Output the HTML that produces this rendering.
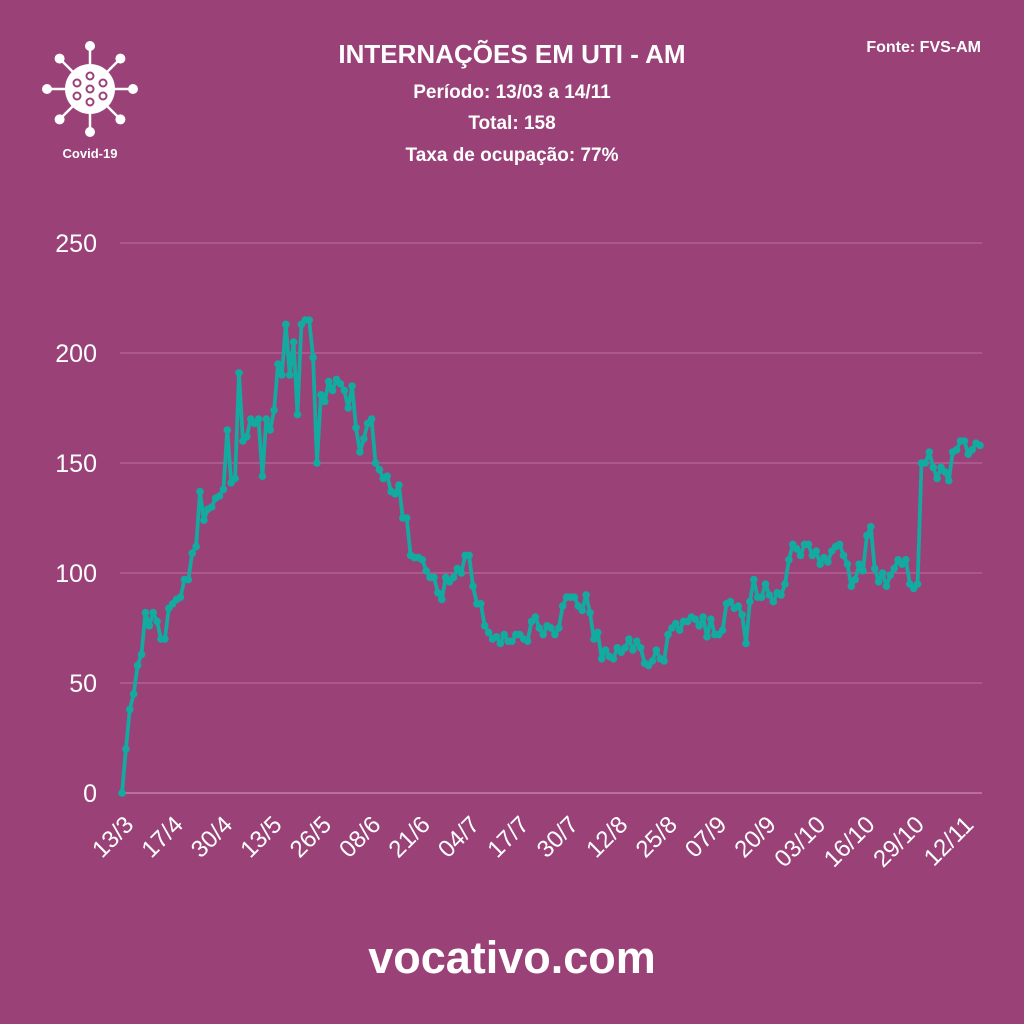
<!DOCTYPE html>
<html><head><meta charset="utf-8"><style>
body{margin:0;background:#9a4178;}
svg{display:block;font-family:"Liberation Sans",sans-serif;}
</style></head><body>
<svg id="chart" width="1024" height="1024" viewBox="0 0 1024 1024">
<rect width="1024" height="1024" fill="#9a4178"/>
<g id="virus" fill="#fff" stroke="#fff"></g>
<text x="90" y="158" text-anchor="middle" font-size="13" font-weight="bold" fill="#fff">Covid-19</text>
<text x="512" y="63" text-anchor="middle" font-size="26" font-weight="bold" fill="#fff">INTERNAÇÕES EM UTI - AM</text>
<text x="512" y="98" text-anchor="middle" font-size="19" font-weight="bold" fill="#fff">Período: 13/03 a 14/11</text>
<text x="512" y="129" text-anchor="middle" font-size="19" font-weight="bold" fill="#fff">Total: 158</text>
<text x="512" y="161" text-anchor="middle" font-size="19" font-weight="bold" fill="#fff">Taxa de ocupação: 77%</text>
<text x="981" y="52" text-anchor="end" font-size="16" font-weight="bold" fill="#fff">Fonte: FVS-AM</text>
<text x="512" y="973" text-anchor="middle" font-size="45" font-weight="bold" fill="#fff">vocativo.com</text>
<g id="grid"></g><g id="xlabels"></g><g id="series"></g>
</svg>
<script>
const yTicks=[0,50,100,150,200,250];
const xTickLabels=["13/3","17/4","30/4","13/5","26/5","08/6","21/6","04/7","17/7","30/7","12/8","25/8","07/9","20/9","03/10","16/10","29/10","12/11"];
const values=[0,20,38,45,58,63,82,76,82,78,70,70,84,86,88,89,97,97,109,112,137,124,129,130,134,135,138,165,141,143,191,160,162,170,168,170,144,170,165,174,195,190,213,190,205,172,213,215,215,198,150,181,178,187,183,188,186,183,175,185,166,155,161,168,170,150,147,143,144,137,136,140,125,125,108,
107,107,106,101,98,98,91,88,98,96,98,102,100,108,108,94,86,86,76,73,70,71,68,72,69,69,72,72,70,69,78,80,75,72,76,75,72,75,85,89,89,89,85,83,90,82,70,73,61,65,62,61,66,64,66,70,65,69,66,59,58,60,65,61,60,72,75,77,74,78,78,80,
79,76,80,71,79,72,72,74,86,87,84,85,81,68,87,97,89,89,95,90,87,91,90,95,106,113,111,108,113,113,108,110,104,107,105,110,112,113,108,104,94,97,104,101,117,121,102,96,100,94,99,102,106,104,106,95,93,95,150,150,155,148,143,148,146,142,155,156,160,160,154,156,159,158];
const NS="http://www.w3.org/2000/svg";
const X0=122,X1=980,Y0=793,YS=2.2;
const N=values.length;
const xS=i=>X0+(X1-X0)*i/(N-1);
const yS=v=>Y0-v*YS;
function mk(t,a,p){const e=document.createElementNS(NS,t);for(const k in a)e.setAttribute(k,a[k]);p.appendChild(e);return e;}
const vg=document.getElementById('virus');
for(let k=0;k<8;k++){const a=k*Math.PI/4-Math.PI/2;
const l=mk('line',{x1:90,y1:89,x2:90+43*Math.cos(a),y2:89+43*Math.sin(a),'stroke-width':2.5},vg);

const c=mk('circle',{cx:90+43*Math.cos(a),cy:89+43*Math.sin(a),r:5,stroke:'none'},vg);
}
const body=mk('circle',{cx:90,cy:89,r:25,stroke:'none'},vg);

[[0,-13],[0,0],[0,13],[-13,-6],[13,-6],[-13,7],[13,7]].forEach(d=>{const c=mk('circle',{cx:90+d[0],cy:89+d[1],r:3.5,fill:'none',stroke:'#9a4178','stroke-width':2},vg);
});
const g=document.getElementById('grid');
yTicks.forEach(v=>{const l=mk('line',{x1:X0-2,x2:X1+2,y1:yS(v),y2:yS(v),stroke:v===0?'#c98db0':'#b3669a','stroke-width':1.3},g);

const t=mk('text',{x:97,y:yS(v)+9,'text-anchor':'end','font-size':25,fill:'#fff'},g);t.textContent=v;
});
const xg=document.getElementById('xlabels');
const span=(N-1)*(840/858);
xTickLabels.forEach((s,k)=>{const x=xS(k*span/(xTickLabels.length-1));
const t=mk('text',{x:x+13,y:826,'text-anchor':'end','font-size':24,fill:'#fff',transform:`rotate(-45 ${x+13} 826)`},xg);t.textContent=s;
});
const sg=document.getElementById('series');
const line=mk('polyline',{points:values.map((v,i)=>xS(i)+','+yS(v)).join(' '),fill:'none',stroke:'#13aaa0','stroke-width':3.8,'stroke-linejoin':'round'},sg);

values.forEach((v,i)=>{const c=mk('circle',{cx:xS(i),cy:yS(v),r:3.8,fill:'#13aaa0'},sg);
});
</script>
</body></html>
